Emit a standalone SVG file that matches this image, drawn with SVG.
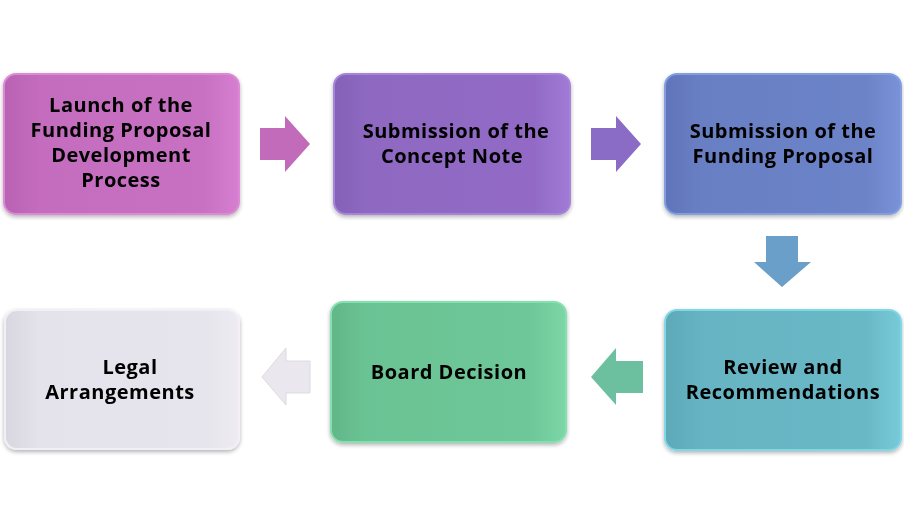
<svg xmlns="http://www.w3.org/2000/svg" width="904" height="525" viewBox="0 0 904 525">
<style>
.t{font-family:"Open Sans","Liberation Sans",sans-serif;font-weight:700;font-size:20px;letter-spacing:0.5px;fill:#000;text-anchor:middle}
.box{stroke-width:2}
</style>
<defs>
<filter id="sh" x="-10%" y="-10%" width="120%" height="130%">
<feGaussianBlur in="SourceAlpha" stdDeviation="2"/>
<feOffset dx="0" dy="2"/>
<feComponentTransfer><feFuncA type="linear" slope="0.3"/></feComponentTransfer>
<feMerge><feMergeNode/><feMergeNode in="SourceGraphic"/></feMerge>
</filter>
<linearGradient id="g1" x1="0" x2="1"><stop offset="0" stop-color="#b962b2"/><stop offset="0.15" stop-color="#c46cbe"/><stop offset="0.85" stop-color="#c870c2"/><stop offset="1" stop-color="#d67fd0"/></linearGradient>
<linearGradient id="g2" x1="0" x2="1"><stop offset="0" stop-color="#8462b6"/><stop offset="0.15" stop-color="#8f68c2"/><stop offset="0.85" stop-color="#926bc6"/><stop offset="1" stop-color="#a07ad4"/></linearGradient>
<linearGradient id="g3" x1="0" x2="1"><stop offset="0" stop-color="#6074ba"/><stop offset="0.15" stop-color="#697fc4"/><stop offset="0.85" stop-color="#6c83c8"/><stop offset="1" stop-color="#7a92d8"/></linearGradient>
<linearGradient id="g4" x1="0" x2="1"><stop offset="0" stop-color="#5da9b8"/><stop offset="0.15" stop-color="#66b4c3"/><stop offset="0.85" stop-color="#69b8c6"/><stop offset="1" stop-color="#78cad8"/></linearGradient>
<linearGradient id="g5" x1="0" x2="1"><stop offset="0" stop-color="#62b688"/><stop offset="0.15" stop-color="#6bc394"/><stop offset="0.85" stop-color="#6ec798"/><stop offset="1" stop-color="#7cd6a6"/></linearGradient>
<linearGradient id="g6" x1="0" x2="1"><stop offset="0" stop-color="#d8d6e0"/><stop offset="0.15" stop-color="#e4e2ea"/><stop offset="0.85" stop-color="#e6e4ec"/><stop offset="1" stop-color="#eeecf2"/></linearGradient>
</defs>
<g id="connectors">
<path d="M260 128 H285 V116 L310 144 L285 172 V160 H260 Z" fill="#c26bbb"/>
<path d="M591 128 H616 V116 L641 144 L616 172 V160 H591 Z" fill="#8a6cc6"/>
<path d="M766 236 H798 V262 H811 L782 287 L754 262 H766 Z" fill="#6a9fca"/>
<path d="M643 361 H616 V348 L591 377 L616 405 V393 H643 Z" fill="#6cc0a0"/>
<path d="M310 361 H286 V348 L262 377 L286 405 V393 H310 Z" fill="#eae8ee" stroke="#dcdae2" stroke-width="1"/>
</g>
<g id="n1" filter="url(#sh)">
<rect class="box" x="4" y="74" width="235" height="140" rx="12" fill="url(#g1)" stroke="#dc8ad6"/>
<text class="t" x="121" y="112">Launch of the</text>
<text class="t" x="121" y="137">Funding Proposal</text>
<text class="t" x="121" y="162">Development</text>
<text class="t" x="121" y="187">Process</text>
</g>
<g id="n2" filter="url(#sh)">
<rect class="box" x="334" y="74" width="236" height="140" rx="12" fill="url(#g2)" stroke="#a684dc"/>
<text class="t" x="456" y="138">Submission of the</text>
<text class="t" x="452" y="163">Concept Note</text>
</g>
<g id="n3" filter="url(#sh)">
<rect class="box" x="665" y="74" width="236" height="140" rx="12" fill="url(#g3)" stroke="#849ce0"/>
<text class="t" x="783" y="138">Submission of the</text>
<text class="t" x="783" y="163">Funding Proposal</text>
</g>
<g id="n4" filter="url(#sh)">
<rect class="box" x="665" y="310" width="236" height="140" rx="12" fill="url(#g4)" stroke="#80d8e6"/>
<text class="t" x="783" y="374">Review and</text>
<text class="t" x="783" y="399">Recommendations</text>
</g>
<g id="n5" filter="url(#sh)">
<rect class="box" x="331" y="302" width="235" height="140" rx="12" fill="url(#g5)" stroke="#84e0b0"/>
<text class="t" x="449" y="379">Board Decision</text>
</g>
<g id="n6" filter="url(#sh)">
<rect class="box" x="5" y="310" width="234" height="139" rx="12" fill="url(#g6)" stroke="#f2f0f6"/>
<text class="t" x="130" y="374">Legal</text>
<text class="t" x="120" y="399">Arrangements</text>
</g>
</svg>
